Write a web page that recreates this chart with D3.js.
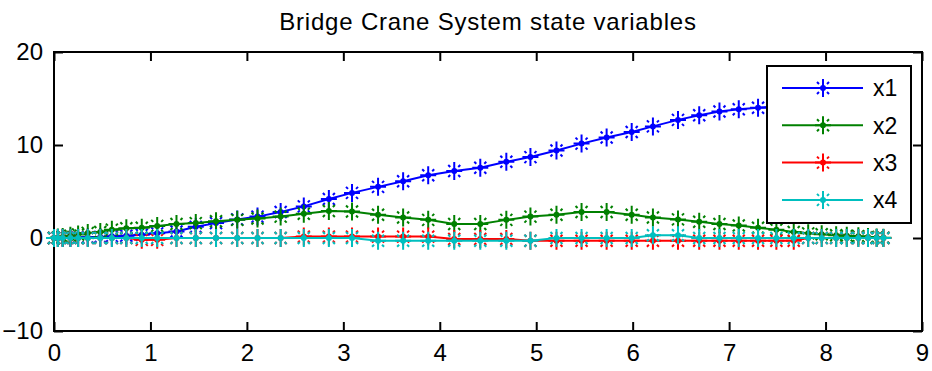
<!DOCTYPE html>
<html>
<head>
<meta charset="utf-8">
<script src="https://cdn.jsdelivr.net/npm/d3@7"></script>
<style>
    body { margin: 0; background: #fff; }
    text { font-family: "Liberation Sans", Arial, sans-serif; fill: #000; }
</style>
</head>
<body>
<svg id="chart"></svg>
<script>
//Data (time grid of the solver output)
const time = [0, 0.04, 0.09, 0.17, 0.25, 0.35, 0.48, 0.6, 0.75, 0.91,
    1.07, 1.27, 1.47, 1.68, 1.9, 2.11, 2.35, 2.59, 2.85, 3.09,
    3.36, 3.62, 3.88, 4.15, 4.42, 4.69, 4.94, 5.21, 5.47, 5.73,
    5.99, 6.21, 6.47, 6.69, 6.9, 7.1, 7.3, 7.49, 7.67, 7.82,
    7.96, 8.11, 8.22, 8.34, 8.44, 8.53, 8.6];

const x1 = [0, 0, 0.01, 0.02, 0.04, 0.07, 0.12, 0.18, 0.25, 0.35,
    0.5, 0.7, 1.2, 1.6, 2.0, 2.3, 2.8, 3.4, 4.2, 4.85,
    5.5, 6.1, 6.75, 7.2, 7.55, 8.2, 8.7, 9.4, 10.15, 10.8,
    11.4, 12.0, 12.7, 13.2, 13.6, 13.85, 14.0, 14.2, 14.35, 14.45,
    14.5, 14.55, 14.6, 14.6, 14.6, 14.6, 14.6];

const x2 = [0, 0.05, 0.12, 0.25, 0.38, 0.55, 0.65, 0.9, 1.05, 1.1,
    1.3, 1.5, 1.6, 1.8, 1.95, 2.1, 2.3, 2.6, 2.9, 2.85,
    2.5, 2.2, 1.95, 1.5, 1.5, 1.95, 2.3, 2.5, 2.8, 2.8,
    2.5, 2.2, 2.0, 1.75, 1.5, 1.35, 1.1, 0.9, 0.65, 0.5,
    0.4, 0.3, 0.25, 0.18, 0.12, 0.06, 0.02];

const x3 = [0, 0, 0, 0, 0, 0, 0, 0, 0, -0.2,
    -0.2, 0, 0, 0, 0, 0, 0, 0.15, 0.15, 0.15,
    0.15, 0.15, 0.15, -0.1, -0.1, -0.1, -0.3, -0.3, -0.3, -0.3,
    -0.3, -0.3, -0.3, -0.3, -0.3, -0.3, -0.3, -0.3, -0.3, 0,
    0, 0, 0, 0, 0, 0, 0];

const x4 = [0, 0, 0, 0, 0, 0, 0, 0, 0, 0,
    0, 0, 0, 0, 0, 0, 0, 0, 0, 0,
    -0.3, -0.3, -0.3, -0.3, -0.3, -0.3, -0.3, 0, 0, 0,
    0, 0.3, 0.3, 0, 0, 0, 0, 0, 0, 0,
    0, 0, 0, 0, 0, 0, 0];

const seriesNames = ["x1", "x2", "x3", "x4"];
const seriesValues = [x1, x2, x3, x4];
const seriesColors = ["#0000ff", "#008000", "#ff0000", "#00bfbf"];

const xTicks = [0, 1, 2, 3, 4, 5, 6, 7, 8, 9];
const yTicks = [-10, 0, 10, 20];
const titleText = "Bridge Crane System state variables";

//Размеры окна
const svg_width = 932, svg_height = 371;
const plot = {left: 54, right: 922, top: 52, bottom: 331};

const svg = d3.select("#chart")
    .attr("width", svg_width)
    .attr("height", svg_height);

const xScale = d3.scaleLinear().domain([0, 9]).range([plot.left, plot.right]);
const yScale = d3.scaleLinear().domain([-10, 20]).range([plot.bottom, plot.top]);

//Заголовок
svg.append("text")
    .attr("x", (plot.left + plot.right) / 2)
    .attr("y", 30)
    .attr("text-anchor", "middle")
    .attr("font-size", 24)
    .attr("letter-spacing", 0.8)
    .text(titleText);

//Рамка осей
svg.append("rect")
    .attr("x", plot.left)
    .attr("y", plot.top)
    .attr("width", plot.right - plot.left)
    .attr("height", plot.bottom - plot.top)
    .attr("fill", "none")
    .attr("stroke", "black")
    .attr("stroke-width", 2);

//Функция оформления оси
function styleAxis(g, fontSize) {
    g.select(".domain").remove();
    g.selectAll(".tick line").attr("stroke", "black").attr("stroke-width", 2);
    g.selectAll(".tick text")
        .attr("font-size", fontSize)
        .attr("font-family", "Liberation Sans, Arial, sans-serif")
        .attr("fill", "black");
}

svg.append("g")
    .attr("transform", `translate(0, ${plot.bottom})`)
    .call(d3.axisBottom(xScale).tickValues(xTicks).tickSize(-9).tickPadding(13))
    .call(g => styleAxis(g, 24));

svg.append("g")
    .attr("transform", `translate(0, ${plot.top})`)
    .call(d3.axisTop(xScale).tickValues(xTicks).tickSize(-9).tickFormat(""))
    .call(g => styleAxis(g, 24));

svg.append("g")
    .attr("transform", `translate(${plot.left}, 0)`)
    .call(d3.axisLeft(yScale).tickValues(yTicks).tickSize(-9).tickPadding(11))
    .call(g => styleAxis(g, 24));

svg.append("g")
    .attr("transform", `translate(${plot.right}, 0)`)
    .call(d3.axisRight(yScale).tickValues(yTicks).tickSize(-9).tickFormat(""))
    .call(g => styleAxis(g, 24));

//Маркер '*'
const starPath = "M0,-9V9M-8,0H8M-6,-6l2,2M6,-6l-2,2M-6,6l2,-2M6,6l-2,-2";

function drawStar(parent, cx, cy, color) {
    const m = parent.append("g").attr("transform", `translate(${cx},${cy})`);
    m.append("path")
        .attr("d", starPath)
        .attr("stroke", color)
        .attr("stroke-width", 2)
        .attr("fill", "none");
    m.append("circle")
        .attr("r", 3)
        .attr("fill", color);
    return m;
}

//Линии и маркеры
const line = d3.line()
    .x(d => xScale(d.t))
    .y(d => yScale(d.v));

const plotArea = svg.append("g");

seriesValues.forEach((values, i) => {
    const points = time.map((t, k) => ({t: t, v: values[k]}));
    const g = plotArea.append("g");
    g.append("path")
        .attr("d", line(points))
        .attr("fill", "none")
        .attr("stroke", seriesColors[i])
        .attr("stroke-width", 2);
    points.forEach(p => drawStar(g, xScale(p.t), yScale(p.v), seriesColors[i]));
});

//Легенда
const legend = svg.append("g");
legend.append("rect")
    .attr("x", 767)
    .attr("y", 66)
    .attr("width", 144)
    .attr("height", 157)
    .attr("fill", "white")
    .attr("stroke", "black")
    .attr("stroke-width", 2);

seriesNames.forEach((name, i) => {
    const y = 88 + i * 37.3;
    legend.append("line")
        .attr("x1", 782)
        .attr("x2", 863)
        .attr("y1", y)
        .attr("y2", y)
        .attr("stroke", seriesColors[i])
        .attr("stroke-width", 2);
    drawStar(legend, 823, y, seriesColors[i]);
    legend.append("text")
        .attr("x", 873)
        .attr("y", y)
        .attr("dy", "0.36em")
        .attr("font-size", 23)
        .text(name);
});
</script>
</body>
</html>
